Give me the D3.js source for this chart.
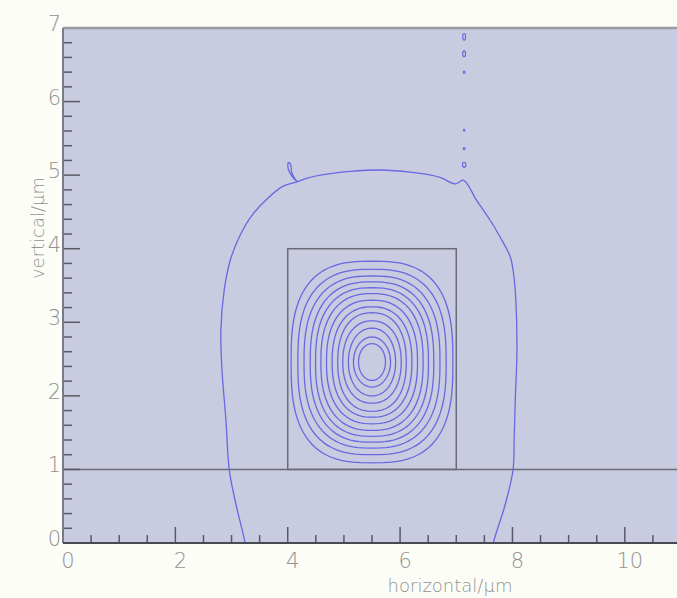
<!DOCTYPE html>
<html>
<head>
<meta charset="utf-8">
<script src="https://cdn.jsdelivr.net/npm/d3@7"></script>
<style>
  body { margin: 0; background: #fcfdf7; }
  svg { display: block; }
  .lbl { font-family: "DejaVu Sans", sans-serif; font-weight: 200; fill: #929292; }
</style>
</head>
<body>
<div class="chart"></div>
<script>
// axis ranges and ticks (µm)
const xDomain = [0, 11];
const yDomain = [0, 7];
const xTickLabels = [0, 2, 4, 6, 8, 10];
const yTickLabels = [0, 1, 2, 3, 4, 5, 6, 7];

// waveguide outline: substrate top at y=1, rib from x=4..7, y=1..4
const substrateY = 1;
const ribX = [4, 7];
const ribY = [1, 4];

// mode contours inside the rib (outer -> inner)
const modeCenter = [5.5, 2.46];
const contourHalfWidth  = [1.44, 1.32, 1.21, 1.10, 1.005, 0.91, 0.81, 0.71, 0.61, 0.52, 0.42, 0.33, 0.24];
const contourHalfHeight = [1.37, 1.26, 1.17, 1.09, 1.01, 0.93, 0.84, 0.75, 0.67, 0.56, 0.46, 0.34, 0.25];
const contourSquareness = [2.8, 2.7, 2.6, 2.55, 2.5, 2.45, 2.4, 2.35, 2.3, 2.2, 2.1, 2.0, 2.0];

// the big outer contour
const outerContour = [
    [3.24, -0.05], [3.24, 0], [3.08, 0.52], [2.96, 0.99], [2.90, 1.67], [2.83, 2.35], [2.81, 2.89],
    [2.87, 3.44], [2.98, 3.85], [3.15, 4.18], [3.37, 4.46], [3.65, 4.69], [3.92, 4.85],
    [4.17, 4.91], [4.35, 4.96], [4.58, 5.00], [5.11, 5.05], [5.64, 5.07], [6.18, 5.04],
    [6.71, 4.97], [6.98, 4.88], [7.13, 4.93], [7.36, 4.66], [7.60, 4.39], [7.78, 4.16],
    [7.96, 3.89], [8.02, 3.66], [8.06, 3.30], [8.08, 2.62], [8.05, 1.94], [8.03, 1.40],
    [8.01, 0.99], [7.87, 0.52], [7.66, 0], [7.66, -0.05]
];
// little loop on the left shoulder
const shoulderLoop = [
    [4.17, 4.91], [4.08, 4.98], [4.01, 5.08], [4.01, 5.17], [4.05, 5.15], [4.07, 5.04], [4.12, 4.96], [4.17, 4.91]
];
// tiny closed contours above the rib: x, y, rx, ry
const specks = [
    [7.14, 6.88, 0.025, 0.045],
    [7.14, 6.65, 0.025, 0.04],
    [7.14, 6.40, 0.015, 0.015],
    [7.14, 5.61, 0.012, 0.012],
    [7.14, 5.36, 0.015, 0.015],
    [7.14, 5.14, 0.03, 0.035]
];

const draw = () => {
    const W = 677, H = 598;
    const margin = {top: 28, right: -4, bottom: 55, left: 63};

    const svg = d3.select('.chart')
        .append('svg')
        .attr('width', W)
        .attr('height', H);

    const xScale = d3.scaleLinear().domain(xDomain).range([margin.left, W - margin.right]);
    const yScale = d3.scaleLinear().domain(yDomain).range([H - margin.bottom, margin.top]);

    const x0 = xScale(0), x1 = xScale(xDomain[1]);
    const y0 = yScale(0), y1 = yScale(7);

    svg.append('clipPath').attr('id', 'plot')
        .append('rect')
        .attr('x', x0).attr('y', y1)
        .attr('width', x1 - x0).attr('height', y0 - y1);

    // plot background
    svg.append('rect')
        .attr('x', x0).attr('y', y1)
        .attr('width', x1 - x0).attr('height', y0 - y1)
        .attr('fill', '#c9cbe0');

    const g = svg.append('g').attr('clip-path', 'url(#plot)');

    // structure outline
    g.append('line')
        .attr('x1', x0).attr('x2', x1)
        .attr('y1', yScale(substrateY)).attr('y2', yScale(substrateY))
        .attr('stroke', '#6a6a78').attr('stroke-width', 1.5);
    g.append('rect')
        .attr('x', xScale(ribX[0])).attr('y', yScale(ribY[1]))
        .attr('width', xScale(ribX[1]) - xScale(ribX[0]))
        .attr('height', yScale(ribY[0]) - yScale(ribY[1]))
        .attr('fill', 'none')
        .attr('stroke', '#6a6a78').attr('stroke-width', 1.5);

    const line = d3.line()
        .x(function(d){ return xScale(d[0]); })
        .y(function(d){ return yScale(d[1]); });

    const contourColor = '#6868e0';

    // superellipse-ish loops for the mode
    const loop = function(hw, hh, n){
        const pts = [];
        for(let k = 0; k < 96; k++){
            const t = k / 96 * 2 * Math.PI;
            const c = Math.cos(t), s = Math.sin(t);
            pts.push([
                modeCenter[0] + hw * Math.sign(c) * Math.pow(Math.abs(c), 2 / n),
                modeCenter[1] + hh * Math.sign(s) * Math.pow(Math.abs(s), 2 / n)
            ]);
        }
        return pts;
    };

    g.selectAll('.mode')
        .data(contourHalfWidth.map(function(hw, i){ return loop(hw, contourHalfHeight[i], contourSquareness[i]); }))
        .enter()
        .append('path')
        .attr('class', 'mode')
        .attr('d', line.curve(d3.curveLinearClosed))
        .attr('fill', 'none')
        .attr('stroke', contourColor)
        .attr('stroke-width', 1.3);

    line.curve(d3.curveCatmullRom);
    g.append('path')
        .datum(outerContour)
        .attr('d', line)
        .attr('fill', 'none')
        .attr('stroke', contourColor)
        .attr('stroke-width', 1.3);
    g.append('path')
        .datum(shoulderLoop)
        .attr('d', line)
        .attr('fill', 'none')
        .attr('stroke', contourColor)
        .attr('stroke-width', 1.3);

    g.selectAll('.speck')
        .data(specks)
        .enter()
        .append('ellipse')
        .attr('class', 'speck')
        .attr('cx', function(d){ return xScale(d[0]); })
        .attr('cy', function(d){ return yScale(d[1]); })
        .attr('rx', function(d){ return xScale(d[2]) - xScale(0); })
        .attr('ry', function(d){ return yScale(0) - yScale(d[3]); })
        .attr('fill', 'none')
        .attr('stroke', contourColor)
        .attr('stroke-width', 1.2);

    // frame: top border, left and bottom axes
    svg.append('line')
        .attr('x1', x0).attr('x2', W).attr('y1', y1).attr('y2', y1)
        .attr('stroke', '#9a9aa4').attr('stroke-width', 2.5);

    // x ticks: long at even numbers, short every 0.5
    const xMinor = d3.range(0, 22).map(function(i){ return i * 0.5; });
    svg.selectAll('.xtick')
        .data(xMinor)
        .enter()
        .append('line')
        .attr('class', 'xtick')
        .attr('x1', function(d){ return xScale(d); })
        .attr('x2', function(d){ return xScale(d); })
        .attr('y1', y0)
        .attr('y2', function(d){ return y0 - (xTickLabels.indexOf(d) >= 0 ? 16 : 8); })
        .attr('stroke', '#5a5a66').attr('stroke-width', 1.5);

    // y ticks: long at integers, short every 0.2
    const yMinor = d3.range(0, 35).map(function(i){ return Math.round(i * 2) / 10; });
    svg.selectAll('.ytick')
        .data(yMinor)
        .enter()
        .append('line')
        .attr('class', 'ytick')
        .attr('x1', x0)
        .attr('x2', function(d){ return x0 + (yTickLabels.indexOf(d) >= 0 ? 17 : 9); })
        .attr('y1', function(d){ return yScale(d); })
        .attr('y2', function(d){ return yScale(d); })
        .attr('stroke', '#5a5a66').attr('stroke-width', 1.5);

    svg.append('line')
        .attr('x1', x0).attr('x2', x0).attr('y1', y1).attr('y2', y0)
        .attr('stroke', '#7a7a86').attr('stroke-width', 2);
    svg.append('line')
        .attr('x1', x0).attr('x2', W).attr('y1', y0).attr('y2', y0)
        .attr('stroke', '#4a4a52').attr('stroke-width', 2);

    // tick labels
    svg.selectAll('.xlab')
        .data(xTickLabels)
        .enter()
        .append('text')
        .attr('class', 'lbl')
        .attr('x', function(d){ return xScale(d) + 5; })
        .attr('y', y0 + 25)
        .attr('text-anchor', 'middle')
        .attr('font-size', 21)
        .text(function(d){ return d; });

    svg.selectAll('.ylab')
        .data(yTickLabels)
        .enter()
        .append('text')
        .attr('class', 'lbl')
        .attr('x', x0 - 2)
        .attr('y', function(d){ return yScale(d) + 3; })
        .attr('text-anchor', 'end')
        .attr('font-size', 21)
        .text(function(d){ return d; });

    // axis titles
    svg.append('text')
        .attr('class', 'lbl')
        .attr('x', 450)
        .attr('y', 592)
        .attr('text-anchor', 'middle')
        .attr('font-size', 18)
        .text('horizontal/µm');

    svg.append('text')
        .attr('class', 'lbl')
        .attr('transform', 'translate(44,228) rotate(-90)')
        .attr('text-anchor', 'middle')
        .attr('font-size', 18)
        .text('vertical/µm');
};

draw();
</script>
</body>
</html>
